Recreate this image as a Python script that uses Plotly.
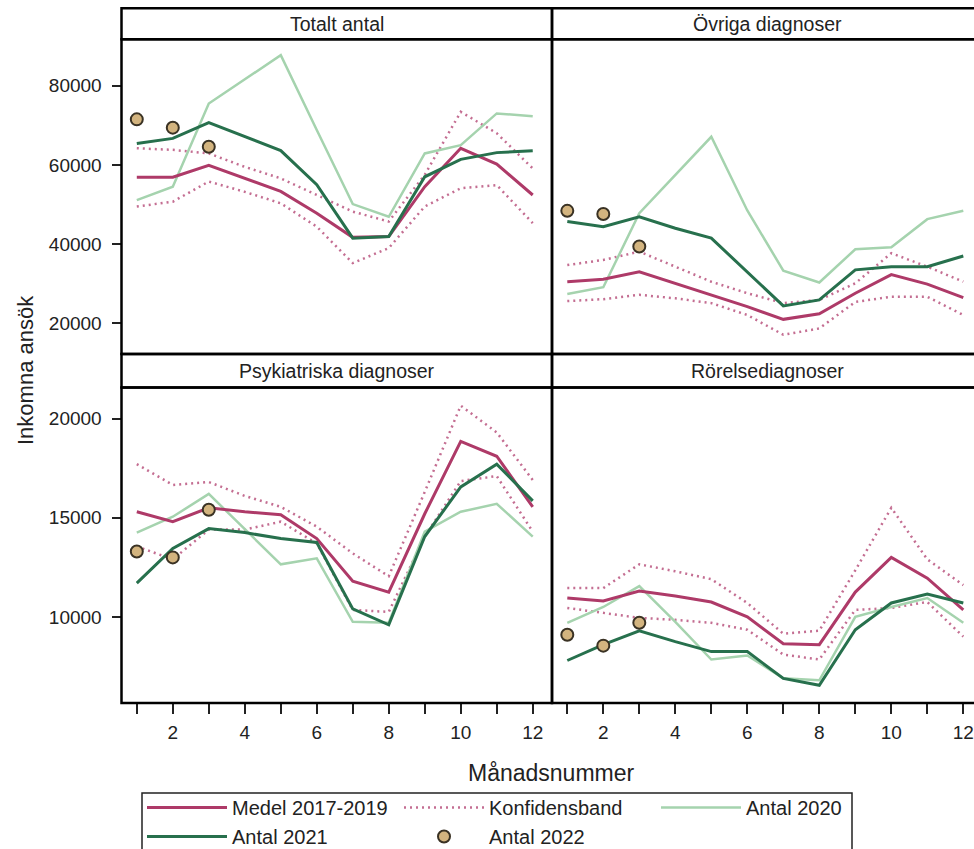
import plotly.graph_objects as go

months = list(range(1, 13))
months_2022 = [1, 2, 3]

panel_titles = ["Totalt antal", "Övriga diagnoser", "Psykiatriska diagnoser", "Rörelsediagnoser"]

# Totalt antal
medel_tot = [56900, 56900, 59900, 56600, 53300, 47800, 41700, 41900, 54500, 64200, 60200, 52400]
ub_tot = [64200, 63800, 62900, 59500, 56600, 52400, 48200, 45700, 57500, 73400, 68000, 59100]
lb_tot = [49500, 50700, 55800, 53200, 50300, 44400, 35200, 39000, 49500, 54100, 54900, 45300]
a2020_tot = [51100, 54500, 75500, 81500, 87700, 68800, 50100, 46900, 62900, 65000, 73000, 72300]
a2021_tot = [65400, 66700, 70700, 67100, 63600, 55000, 41500, 41900, 57000, 61400, 63100, 63600]
a2022_tot = [71500, 69400, 64600]

# Övriga diagnoser
medel_ov = [30500, 31100, 33000, 30100, 27200, 24200, 21000, 22400, 27600, 32300, 29900, 26500]
ub_ov = [34700, 36000, 38100, 34300, 30500, 27600, 25100, 25900, 30100, 37700, 34300, 30500]
lb_ov = [25600, 26100, 27200, 26300, 25100, 22100, 17100, 18700, 25400, 26700, 26700, 22100]
a2020_ov = [27400, 29100, 47800, 57500, 67100, 48500, 33300, 30300, 38700, 39200, 46300, 48400]
a2021_ov = [45700, 44400, 46900, 44000, 41500, 33000, 24400, 25900, 33500, 34300, 34300, 37000]
a2022_ov = [48400, 47600, 39400]

# Psykiatriska diagnoser
medel_ps = [15300, 14800, 15500, 15300, 15150, 13950, 11800, 11250, 15200, 18850, 18100, 15550]
ub_ps = [17700, 16650, 16800, 16100, 15550, 14550, 13200, 12050, 16300, 20650, 19300, 16900]
lb_ps = [13550, 12900, 14400, 14400, 14800, 13700, 10350, 10250, 14050, 16850, 17100, 14300]
a2020_ps = [14250, 15050, 16200, 14400, 12650, 12950, 9750, 9700, 14300, 15300, 15700, 14050]
a2021_ps = [11700, 13450, 14450, 14250, 13950, 13750, 10400, 9600, 14050, 16550, 17700, 15850]
a2022_ps = [13300, 13000, 15400]

# Rörelsediagnoser
medel_ro = [10950, 10800, 11300, 11050, 10750, 10000, 8650, 8600, 11250, 13000, 11950, 10350]
ub_ro = [11450, 11450, 12650, 12300, 11900, 10700, 9150, 9300, 12350, 15500, 12900, 11600]
lb_ro = [10450, 10200, 9950, 9850, 9700, 9350, 8100, 7850, 10350, 10450, 10750, 9000]
a2020_ro = [9700, 10500, 11550, 9750, 7850, 8050, 6900, 6800, 10000, 10500, 10950, 9700]
a2021_ro = [7800, 8600, 9300, 8750, 8250, 8250, 6900, 6550, 9350, 10700, 11150, 10700]
a2022_ro = [9100, 8550, 9700]

x_ticks = list(range(1, 13))
x_ticktext = ["" if m % 2 else str(m) for m in x_ticks]
y_ticks_top = [20000, 40000, 60000, 80000]
y_ticks_bottom = [10000, 15000, 20000]

series_names = ["Medel 2017-2019", "Konfidensband", "Antal 2020", "Antal 2021", "Antal 2022"]

C_MEDEL = "#AE3A68"
C_BAND = "#C46E92"
C_2020 = "#A5D3AE"
C_2021 = "#27704D"
C_2022 = "#D3B47F"

panels = [
    (medel_tot, ub_tot, lb_tot, a2020_tot, a2021_tot, a2022_tot),
    (medel_ov, ub_ov, lb_ov, a2020_ov, a2021_ov, a2022_ov),
    (medel_ps, ub_ps, lb_ps, a2020_ps, a2021_ps, a2022_ps),
    (medel_ro, ub_ro, lb_ro, a2020_ro, a2021_ro, a2022_ro),
]

W, H = 974, 849
FONT = "Liberation Sans, Arial, sans-serif"

def px_x(p):
    return p / W

def px_y(p):
    return 1 - p / H

fig = go.Figure()

for i, (med, ub, lb, a20, a21, a22) in enumerate(panels):
    ax = "" if i == 0 else str(i + 1)
    xa, ya = "x" + ax, "y" + ax
    first = i == 0
    fig.add_trace(go.Scatter(x=months, y=ub, mode="lines", xaxis=xa, yaxis=ya,
                             line=dict(color=C_BAND, width=2.5, dash="2px,4px"),
                             name=series_names[1], showlegend=first, legendrank=2))
    fig.add_trace(go.Scatter(x=months, y=lb, mode="lines", xaxis=xa, yaxis=ya,
                             line=dict(color=C_BAND, width=2.5, dash="2px,4px"),
                             name=series_names[1], showlegend=False))
    fig.add_trace(go.Scatter(x=months, y=a20, mode="lines", xaxis=xa, yaxis=ya,
                             line=dict(color=C_2020, width=2.5),
                             name=series_names[2], showlegend=first, legendrank=3))
    fig.add_trace(go.Scatter(x=months, y=med, mode="lines", xaxis=xa, yaxis=ya,
                             line=dict(color=C_MEDEL, width=3),
                             name=series_names[0], showlegend=first, legendrank=1))
    fig.add_trace(go.Scatter(x=months, y=a21, mode="lines", xaxis=xa, yaxis=ya,
                             line=dict(color=C_2021, width=3),
                             name=series_names[3], showlegend=first, legendrank=4))
    fig.add_trace(go.Scatter(x=months_2022, y=a22, mode="markers", xaxis=xa, yaxis=ya,
                             marker=dict(color=C_2022, size=12, line=dict(color="#3A3224", width=2)),
                             name=series_names[4], showlegend=first, legendrank=5))

# geometry (pixels)
L, MID, R = 121.5, 552, 990
HT1, PT1, PB1 = 8.3, 39.3, 354
HT2, PT2, PB2 = 354, 387.5, 703

x_left_range = [0.575, 12.535]
x_right_range = [0.575, 0.575 + (W - MID) / 36.0]
y_top_range = [12247, 91717]
y_bot_range = [5657, 21566]

tickfont = dict(family=FONT, size=19, color="#222")

def xaxis_def(domain, rng, anchor, labels):
    d = dict(domain=domain, range=rng, anchor=anchor, tickmode="array", tickvals=x_ticks,
             ticktext=x_ticktext, showgrid=False, zeroline=False, showline=False,
             tickfont=tickfont)
    if labels:
        d.update(ticks="outside", ticklen=10, tickwidth=2, tickcolor="#222",
                 showticklabels=True, ticklabelstandoff=2)
    else:
        d.update(ticks="", showticklabels=False)
    return d

def yaxis_def(domain, rng, anchor, vals, labels):
    d = dict(domain=domain, range=rng, anchor=anchor, tickmode="array", tickvals=vals,
             ticktext=[str(v) for v in vals], showgrid=False, zeroline=False,
             showline=False, tickfont=tickfont)
    if labels:
        d.update(ticks="outside", ticklen=9, tickwidth=2, tickcolor="#222",
                 showticklabels=True, ticklabelstandoff=6)
    else:
        d.update(ticks="", showticklabels=False)
    return d

dl = [px_x(L), px_x(MID)]
dr = [px_x(MID), 1]
dt = [px_y(PB1), px_y(PT1)]
db = [px_y(PB2), px_y(PT2)]

fig.update_layout(
    xaxis=xaxis_def(dl, x_left_range, "y", False),
    xaxis2=xaxis_def(dr, x_right_range, "y2", False),
    xaxis3=xaxis_def(dl, x_left_range, "y3", True),
    xaxis4=xaxis_def(dr, x_right_range, "y4", True),
    yaxis=yaxis_def(dt, y_top_range, "x", y_ticks_top, True),
    yaxis2=yaxis_def(dt, y_top_range, "x2", y_ticks_top, False),
    yaxis3=yaxis_def(db, y_bot_range, "x3", y_ticks_bottom, True),
    yaxis4=yaxis_def(db, y_bot_range, "x4", y_ticks_bottom, False),
)

shapes = []
lw = 2.5
for (x0, x1) in [(L, MID), (MID, R)]:
    for (y0, y1) in [(HT1, PT1), (PT1, PB1), (HT2, PT2), (PT2, PB2)]:
        shapes.append(dict(type="rect", xref="paper", yref="paper",
                           x0=px_x(x0), x1=px_x(x1), y0=px_y(y1), y1=px_y(y0),
                           line=dict(color="black", width=lw), fillcolor="rgba(0,0,0,0)",
                           layer="above"))

# legend frame (cut off at the bottom of the picture, as in the original)
LG_L, LG_R, LG_T = 142, 852, 793
shapes.append(dict(type="rect", xref="paper", yref="paper",
                   x0=px_x(LG_L), x1=px_x(LG_R), y0=px_y(H + 20), y1=px_y(LG_T),
                   line=dict(color="#222", width=1.5), fillcolor="rgba(0,0,0,0)",
                   layer="above"))

annotations = []
header_centers = [((L + MID) / 2, (HT1 + PT1) / 2), ((MID + R) / 2 - 4, (HT1 + PT1) / 2),
                  ((L + MID) / 2, (HT2 + PT2) / 2), ((MID + R) / 2 - 4, (HT2 + PT2) / 2)]
for t, (cx, cy) in zip(panel_titles, header_centers):
    annotations.append(dict(text=t, xref="paper", yref="paper", x=px_x(cx), y=px_y(cy),
                            showarrow=False, xanchor="center", yanchor="middle",
                            font=dict(family=FONT, size=19.5, color="#222")))

annotations.append(dict(text="Månadsnummer", xref="paper", yref="paper", x=px_x(551), y=px_y(773),
                        showarrow=False, xanchor="center", yanchor="middle",
                        font=dict(family=FONT, size=23, color="#222")))
annotations.append(dict(text="Inkomna ansök", xref="paper", yref="paper", x=px_x(25), y=px_y(370),
                        showarrow=False, xanchor="center", yanchor="middle", textangle=-90,
                        font=dict(family=FONT, size=22, color="#222")))

fig.update_layout(
    width=W, height=H,
    margin=dict(l=0, r=0, t=0, b=0, autoexpand=False),
    paper_bgcolor="white", plot_bgcolor="white",
    shapes=shapes, annotations=annotations,
    showlegend=True,
    legend=dict(orientation="h", x=px_x(LG_L), y=px_y(LG_T - 5), xanchor="left", yanchor="top",
                borderwidth=0, bgcolor="rgba(0,0,0,0)",
                font=dict(family=FONT, size=20, color="#222"),
                itemwidth=80, traceorder="normal", entrywidth=162, entrywidthmode="pixels"),
)

fig.write_html("out.html")
